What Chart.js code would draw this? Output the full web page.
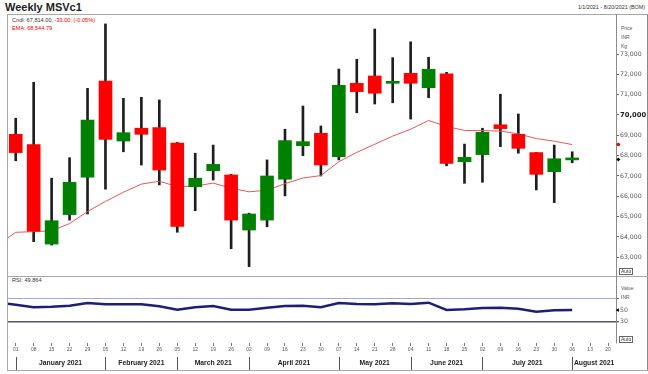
<!DOCTYPE html>
<html>
<head>
<meta charset="utf-8">
<script src="https://cdn.jsdelivr.net/npm/chart.js@4.4.1/dist/chart.umd.min.js"></script>
<style>
    body { margin: 0; background: #fff; font-family: "Liberation Sans", Arial, sans-serif; }
    #wrap { position: relative; width: 648px; height: 374px; overflow: hidden; }
    .t { position: absolute; white-space: nowrap; color: #333; line-height: 1; }
    .auto { position: absolute; font-size: 5px; line-height: 1; padding: 0 1px; border: 1px solid #666; color: #333; background: #fff; }
    canvas { position: absolute; left: 0; }
</style>
</head>
<body>
<div id="wrap">
    <div style="position:absolute;left:7px;top:14px;width:639px;height:355px;border:1px solid #a8a8a8;border-right-color:#8a8a8a"></div>
    <div style="position:absolute;left:7px;top:276px;width:641px;border-top:1px solid #a8a8a8"></div>

    <div class="t" style="left:5px;top:2px;font-size:11px;font-weight:bold;color:#222">Weekly MSVc1</div>
    <div class="t" style="right:3px;top:5px;font-size:5.4px;color:#333">1/1/2021 - 8/20/2021 (BOM)</div>

    <div class="t" style="left:12px;top:18px;font-size:5.6px">Cndl: 67,814.00, <span style="color:#e00">-33.00; (-0.05%)</span></div>
    <div class="t" style="left:12px;top:26px;font-size:5.6px;color:#e00">EMA: 68,544.79</div>
    <div class="t" style="left:12px;top:278px;font-size:5.6px">RSI: 49.864</div>

    <div class="t" style="left:621px;top:26px;font-size:5px;color:#555">Price</div>
    <div class="t" style="left:621px;top:35px;font-size:5px;color:#555">INR</div>
    <div class="t" style="left:621px;top:44px;font-size:5px;color:#555">Kg</div>
    <div class="t" style="left:621px;top:286px;font-size:5px;color:#555">Value</div>

    <canvas id="priceChart" width="648" height="279" style="top:6px"></canvas>
    <canvas id="rsiChart" width="648" height="105" style="top:269px"></canvas>

    <div class="t" style="left:621px;top:295px;font-size:5px;color:#555;background:#fff">INR</div>
    <div class="auto" style="left:619px;top:268px">Auto</div>
    <div class="auto" style="left:619px;top:336px">Auto</div>
</div>

<script>
// Wochen (Freitage), 01.01.2021 - 20.08.2021
const dayLabels = ['01', '08', '15', '22', '29', '05', '12', '19', '26', '05', '12', '19', '26',
    '02', '09', '16', '23', '30', '07', '14', '21', '28', '04', '11', '18', '25',
    '02', '09', '16', '23', '30', '06', '13', '20'];
const monthNames = ['January 2021', 'February 2021', 'March 2021', 'April 2021',
    'May 2021', 'June 2021', 'July 2021', 'August 2021'];
const monthStarts = [0, 5, 9, 13, 18, 22, 26, 31];

// Kerzen (Open / High / Low / Close)
const open = [69050, 68540, 63650, 65100, 66940, 71670, 68720, 69350, 69380, 68620, 66470, 67260, 67050,
    64340, 64830, 66840, 68490, 69100, 67950, 71560, 71920, 71560, 72050, 71340, 72020, 67700,
    68050, 69520, 69050, 68150, 67210, 67790];
const high = [69840, 71610, 66890, 67900, 71310, 74480, 70820, 70870, 70740, 68650, 68120, 68520, 67080,
    65170, 67790, 69300, 70440, 69460, 72260, 72740, 74230, 72820, 73600, 72840, 72100, 68570,
    69350, 71020, 70050, 68160, 68520, 68190];
const low = [67750, 63770, 63600, 64830, 65130, 66350, 68190, 67540, 66560, 64230, 65290, 66800, 63420,
    62540, 64500, 66020, 68000, 67000, 67790, 70110, 70540, 70600, 69800, 70850, 67500, 66640,
    66690, 68440, 68120, 66310, 65690, 67650];
const close = [68150, 64280, 64800, 66690, 69750, 68800, 69130, 69050, 67290, 64520, 66890, 67570, 64830,
    65130, 67000, 68740, 68690, 67540, 71460, 71150, 71070, 71640, 71560, 72250, 67620, 67920,
    69150, 69330, 68360, 67080, 67847, 67814];

// EMA und RSI, erster Wert = Vorwoche (25.12.2020)
const ema = [63600, 64230, 64260, 64300, 64660, 65250, 65750, 66200, 66600, 66740, 66480, 66500, 66650,
    66400, 66220, 66300, 66620, 66900, 67020, 67700, 68160, 68560, 68960, 69300, 69730, 69440,
    69240, 69230, 69210, 69070, 68840, 68710, 68545];
const rsi = [63, 59, 54.6, 55.5, 57.4, 62, 59.7, 59.7, 59.7, 56.3, 50.5, 54.6, 56.8,
    50.5, 50.5, 54, 56.8, 57.4, 54.6, 62, 60.3, 59.7, 61.5, 60.3, 62.5, 50,
    51.2, 53.4, 53.9, 52.2, 47.1, 49.5, 49.864];

const priceTicks = [63000, 64000, 65000, 66000, 67000, 68000, 69000, 70000, 71000, 72000, 73000];
const rsiTicks = [30, 50, 70];

const X_MIN = -0.43, X_MAX = 33.44;
const UP = '#008000', DOWN = '#ff0000';

const fmt = v => v.toLocaleString('en-US');
const tv = c => (c && c.tick) ? c.tick.value : null;
const bodies = open.map((o, i) => ({ x: i, y: [o, close[i]] }));
const wicks = low.map((l, i) => ({ x: i, y: [l, high[i]] }));
const colors = open.map((o, i) => close[i] >= o ? UP : DOWN);
const emaPts = ema.map((v, i) => ({ x: i - 1, y: v }));
const rsiPts = rsi.map((v, i) => ({ x: i - 1, y: v }));
const last = close.length - 1;

// Preis-Chart
new Chart(document.getElementById('priceChart'), {
    type: 'bar',
    data: {
        datasets: [
            {
                data: bodies, backgroundColor: colors, barThickness: 13,
                minBarLength: 2, grouped: false, order: 0
            },
            {
                type: 'line', data: emaPts, borderColor: '#e05a5a', borderWidth: 1,
                pointRadius: 0, tension: 0, order: 1
            },
            {
                data: wicks, backgroundColor: '#1e1e1e', barThickness: 2,
                grouped: false, order: 2
            },
            {
                type: 'line', showLine: false, clip: false, order: 0,
                data: [{ x: X_MAX + 0.13, y: ema[ema.length - 1] }],
                pointRadius: 1.8, pointBackgroundColor: '#e00', pointBorderWidth: 0
            },
            {
                type: 'line', showLine: false, clip: false, order: 0,
                data: [{ x: X_MAX + 0.13, y: close[last] }],
                pointStyle: 'rectRot', pointRadius: 2, pointBackgroundColor: '#000', pointBorderWidth: 0
            }
        ]
    },
    options: {
        responsive: false,
        animation: false,
        layout: { padding: { left: 8, top: 8, bottom: 8, right: 0 } },
        plugins: { legend: { display: false }, tooltip: { enabled: false } },
        scales: {
            x: { type: 'linear', min: X_MIN, max: X_MAX, display: false, offset: false },
            y: {
                position: 'right', min: 62030, max: 74968,
                afterBuildTicks: s => { s.ticks = priceTicks.map(v => ({ value: v })); },
                afterFit: s => { s.width = 32; },
                ticks: {
                    callback: v => fmt(v),
                    color: c => tv(c) === 70000 ? '#222' : '#555',
                    font: c => tv(c) === 70000
                        ? { family: 'DejaVu Sans', size: 6.8, weight: 'bold' }
                        : { family: 'DejaVu Sans', size: 6.2 },
                    padding: 1
                },
                grid: { drawOnChartArea: false, tickLength: 3, color: '#666' },
                border: { color: '#8a8a8a' }
            }
        }
    }
});

// Monatstrenner unter der Zeitachse
const monthSeparators = {
    id: 'monthSeparators',
    afterDraw(chart) {
        const s = chart.scales.xm;
        const ctx = chart.ctx;
        ctx.save();
        ctx.strokeStyle = '#555';
        ctx.lineWidth = 1;
        monthStarts.forEach(i => {
            const x = Math.round(s.getPixelForValue(i)) + 0.5;
            ctx.beginPath();
            ctx.moveTo(x, s.top + 1);
            ctx.lineTo(x, s.top + 14);
            ctx.stroke();
        });
        ctx.restore();
    }
};

// RSI-Chart
new Chart(document.getElementById('rsiChart'), {
    type: 'line',
    data: {
        datasets: [
            {
                data: rsiPts, borderColor: '#1e1e78', borderWidth: 2.5,
                pointRadius: 0, tension: 0
            },
            {
                showLine: false, clip: false,
                data: [{ x: X_MAX + 0.1, y: rsi[rsi.length - 1] }],
                pointStyle: 'triangle', rotation: -90, pointRadius: 2.2,
                pointBackgroundColor: '#000', pointBorderWidth: 0
            }
        ]
    },
    options: {
        responsive: false,
        animation: false,
        layout: { padding: { left: 8, top: 8, bottom: 0, right: 0 } },
        plugins: { legend: { display: false }, tooltip: { enabled: false } },
        scales: {
            x: {
                type: 'linear', min: X_MIN, max: X_MAX, position: 'bottom', weight: 0, offset: false,
                afterBuildTicks: s => { s.ticks = dayLabels.map((d, i) => ({ value: i })); },
                afterFit: s => { s.height = 13; },
                ticks: {
                    callback: (v, i) => dayLabels[i], autoSkip: false, maxRotation: 0,
                    color: '#555', font: { size: 5 }, padding: 1
                },
                grid: { drawOnChartArea: false, tickLength: 3, color: '#777' },
                border: { display: false }
            },
            xm: {
                type: 'linear', min: X_MIN, max: X_MAX, position: 'bottom', weight: 1, offset: false,
                afterBuildTicks: s => {
                    s.ticks = monthStarts.map((m, i) => ({ value: (m + (monthStarts[i + 1] ?? X_MAX)) / 2 }));
                },
                afterFit: s => { s.height = 18; },
                ticks: {
                    callback: (v, i) => monthNames[i], autoSkip: false, maxRotation: 0,
                    color: '#222', font: { size: 6.8, weight: 'bold' }, padding: 3
                },
                grid: { display: false, drawTicks: false },
                border: { display: false }
            },
            y: {
                position: 'right', min: -6.4, max: 106.4,
                afterBuildTicks: s => { s.ticks = rsiTicks.map(v => ({ value: v })); },
                afterFit: s => { s.width = 32; },
                ticks: {
                    callback: v => v === 70 ? '' : String(v),
                    color: '#555', font: { family: 'DejaVu Sans', size: 6.2 }, padding: 1
                },
                grid: {
                    drawOnChartArea: true, tickLength: 3, tickColor: '#666',
                    color: c => tv(c) === 70 ? '#a6a6d2' : (tv(c) === 30 ? '#55556e' : 'rgba(0,0,0,0)'),
                    lineWidth: c => tv(c) === 30 ? 1.4 : 1
                },
                border: { color: '#8a8a8a' }
            }
        }
    },
    plugins: [monthSeparators]
});
</script>
</body>
</html>
